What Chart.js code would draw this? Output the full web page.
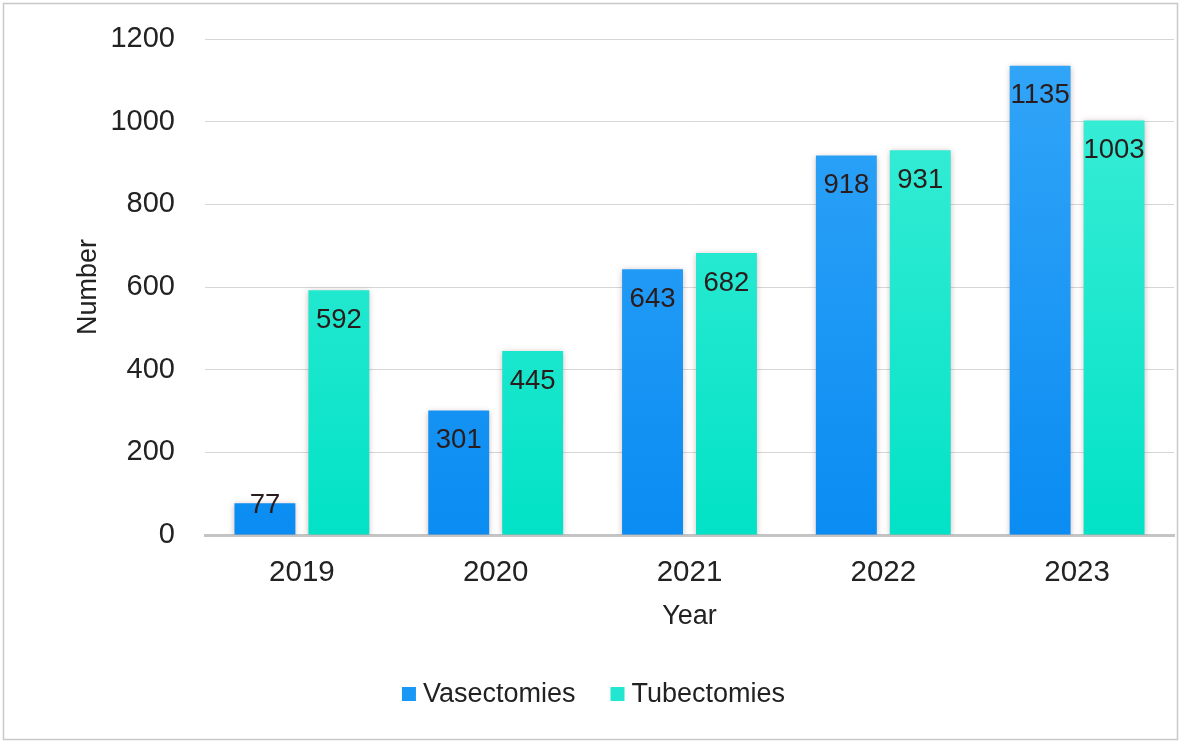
<!DOCTYPE html>
<html>
<head>
<meta charset="utf-8">
<script src="https://cdn.jsdelivr.net/npm/chart.js@4.4.0/dist/chart.umd.min.js"></script>
<style>
  html, body { margin: 0; padding: 0; background: #ffffff; }
  #wrap { position: relative; width: 1181px; height: 743px; }
</style>
</head>
<body>
<div id="wrap"><canvas id="c" width="1181" height="743"></canvas></div>
<script>
const years = ['2019', '2020', '2021', '2022', '2023'];
const vasectomies = [77, 301, 643, 918, 1135];
const tubectomies = [592, 445, 682, 931, 1003];
const seriesNames = ['Vasectomies', 'Tubectomies'];
const yTicks = [0, 200, 400, 600, 800, 1000, 1200];

const FONT = "'Liberation Sans', Arial, Helvetica, sans-serif";
const legendColors = ['#1a98f5', '#22e6cf'];

function grad(chart, top, bottom) {
  const area = chart.chartArea;
  if (!area) return top;
  const g = chart.ctx.createLinearGradient(0, area.top, 0, area.bottom);
  g.addColorStop(0, top);
  g.addColorStop(1, bottom);
  return g;
}

const framePlugin = {
  id: 'frame',
  beforeDraw(chart) {
    const ctx = chart.ctx;
    ctx.save();
    ctx.fillStyle = '#ffffff';
    ctx.fillRect(0, 0, chart.width, chart.height);
    ctx.strokeStyle = '#c8c8c8';
    ctx.lineWidth = 1.5;
    ctx.strokeRect(3.5, 3.5, chart.width - 7, chart.height - 7);
    ctx.restore();
  }
};

const shadowPlugin = {
  id: 'barShadow',
  beforeDatasetsDraw(chart) {
    const ctx = chart.ctx;
    ctx.save();
    ctx.shadowColor = 'rgba(120,70,70,0.35)';
    ctx.shadowBlur = 6;
    ctx.shadowOffsetX = 0;
    ctx.shadowOffsetY = 1;
  },
  afterDatasetsDraw(chart) {
    chart.ctx.restore();
  }
};

const labelPlugin = {
  id: 'valueLabels',
  afterDraw(chart) {
    const ctx = chart.ctx;
    ctx.save();
    ctx.font = '27.5px ' + FONT;
    ctx.fillStyle = '#2a1c1c';
    ctx.textAlign = 'center';
    ctx.textBaseline = 'middle';
    chart.data.datasets.forEach((ds, di) => {
      const meta = chart.getDatasetMeta(di);
      meta.data.forEach((el, i) => {
        const h = el.base - el.y;
        const cy = h > 60 ? el.y + 30 : el.y + 2;
        ctx.fillText(String(ds.data[i]), el.x, cy);
      });
    });
    ctx.restore();
  }
};

const legendPlugin = {
  id: 'customLegend',
  afterDraw(chart) {
    const ctx = chart.ctx;
    ctx.save();
    ctx.font = '27px ' + FONT;
    ctx.textBaseline = 'middle';
    ctx.textAlign = 'left';
    const box = 14, gapText = 7, gapItem = 35, cy = 694;
    const names = chart.data.datasets.map(d => d.label);
    const widths = names.map(n => ctx.measureText(n).width);
    let total = 0;
    widths.forEach((w, i) => { total += box + gapText + w + (i < widths.length - 1 ? gapItem : 0); });
    let x = chart.width / 2 + 3 - total / 2;
    names.forEach((n, i) => {
      ctx.fillStyle = legendColors[i];
      ctx.fillRect(x, cy - box / 2, box, box);
      ctx.fillStyle = '#222222';
      ctx.fillText(n, x + box + gapText, cy + 1);
      x += box + gapText + widths[i] + gapItem;
    });
    ctx.restore();
  }
};

new Chart(document.getElementById('c'), {
  type: 'bar',
  data: {
    labels: years,
    datasets: [
      {
        label: seriesNames[0],
        data: vasectomies,
        backgroundColor: (ctx) => grad(ctx.chart, '#33a6f8', '#0a8cf2'),
        borderWidth: 0,
        barPercentage: 0.824,
        categoryPercentage: 0.763
      },
      {
        label: seriesNames[1],
        data: tubectomies,
        backgroundColor: (ctx) => grad(ctx.chart, '#40eed8', '#02e2c6'),
        borderWidth: 0,
        barPercentage: 0.824,
        categoryPercentage: 0.763
      }
    ]
  },
  options: {
    responsive: false,
    animation: false,
    devicePixelRatio: 1,
    layout: { padding: { left: 0, right: 7, top: 39, bottom: 60 } },
    plugins: {
      tooltip: { enabled: false },
      legend: { display: false }
    },
    scales: {
      x: {
        grid: { display: false, drawTicks: false },
        border: { display: true, color: '#c4c4c4', width: 3 },
        ticks: { font: { family: FONT, size: 29.5 }, color: '#222222', padding: 20 },
        title: {
          display: true,
          text: 'Year',
          font: { family: FONT, size: 27 },
          color: '#222222',
          padding: { top: 0, bottom: 50 }
        },
        afterFit(scale) {
          scale.height = 148;
          scale.paddingLeft = 0;
          scale.paddingRight = 0;
        }
      },
      y: {
        min: 0,
        max: 1200,
        afterBuildTicks(scale) { scale.ticks = yTicks.map(v => ({ value: v })); },
        grid: {
          drawTicks: false,
          color: '#d6d6d6',
          lineWidth: 1
        },
        border: { display: false },
        ticks: {
          font: { family: FONT, size: 29 },
          color: '#222222',
          padding: 30,
          callback: (v) => String(v)
        },
        title: {
          display: true,
          text: 'Number',
          font: { family: FONT, size: 27 },
          color: '#222222',
          padding: { top: 72, bottom: 0 }
        },
        afterFit(scale) {
          scale.width = 205;
          scale.paddingTop = 0;
          scale.paddingBottom = 0;
        }
      }
    }
  },
  plugins: [framePlugin, shadowPlugin, labelPlugin, legendPlugin]
});
</script>
</body>
</html>
